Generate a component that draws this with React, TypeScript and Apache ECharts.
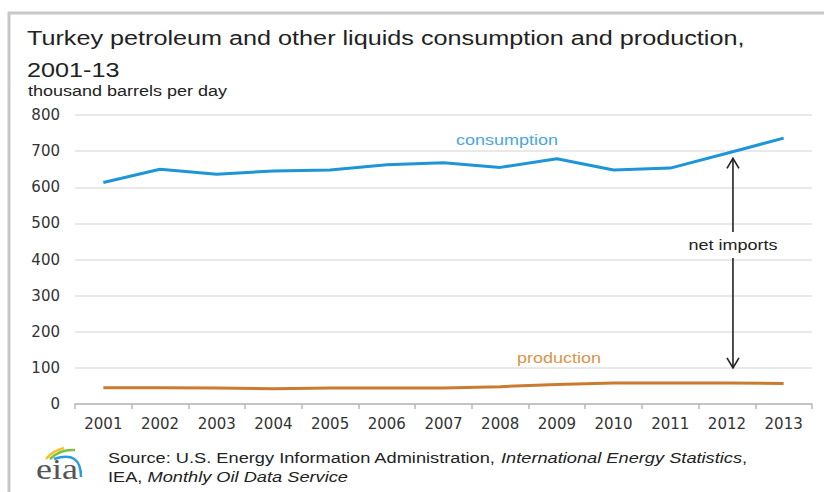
import React, { useEffect, useRef } from "react";
import * as echarts from "echarts";

const years = ["2001", "2002", "2003", "2004", "2005", "2006", "2007", "2008", "2009", "2010", "2011", "2012", "2013"];
const consumption = [613, 650, 636, 645, 648, 662, 668, 655, 679, 648, 653, 694, 736];
const production = [45, 45, 44, 42, 44, 44, 44, 48, 54, 58, 58, 58, 57];
const yTicks = { min: 0, max: 800, interval: 100 };
const arrowSpan = { year: "2012", top: 680, bottom: 100 };

const FONT = "'Liberation Sans', Arial, sans-serif";
const AXFONT = "'DejaVu Sans', 'Liberation Sans', sans-serif";
const BLUE = "#1e95d6";
const BROWN = "#c97b2f";
const SX = 1.2;

export default function App() {
  const ref = useRef<HTMLDivElement>(null);
  useEffect(() => {
    if (!ref.current) return;
    const chart = echarts.init(ref.current, null, { renderer: "svg" });
    chart.setOption({
      animation: false,
      backgroundColor: "#ffffff",
      textStyle: { fontFamily: FONT },
      grid: { left: 75, right: 12, top: 115, bottom: 88, containLabel: false },
      xAxis: {
        type: "category",
        data: years,
        boundaryGap: true,
        axisLine: { lineStyle: { color: "#b8b8b8", width: 1.5 } },
        axisTick: { show: true, length: 5, lineStyle: { color: "#b8b8b8", width: 1.5 } },
        axisLabel: { color: "#333", fontSize: 15, margin: 12, fontFamily: AXFONT },
      },
      yAxis: {
        type: "value",
        min: yTicks.min,
        max: yTicks.max,
        interval: yTicks.interval,
        axisLine: { show: false },
        axisTick: { show: false },
        axisLabel: { color: "#333", fontSize: 15, margin: 15, fontFamily: AXFONT },
        splitLine: { lineStyle: { color: "#e2e2e2", width: 1.5 } },
      },
      series: [
        {
          name: "consumption",
          type: "line",
          data: consumption,
          symbol: "none",
          lineStyle: { color: BLUE, width: 3 },
        },
        {
          name: "production",
          type: "line",
          data: production,
          symbol: "none",
          lineStyle: { color: BROWN, width: 3 },
        },
      ],
    });

    const top = chart.convertToPixel({ xAxisIndex: 0, yAxisIndex: 0 }, [arrowSpan.year, arrowSpan.top]) as number[];
    const bot = chart.convertToPixel({ xAxisIndex: 0, yAxisIndex: 0 }, [arrowSpan.year, arrowSpan.bottom]) as number[];
    const ax = top[0] + 6;
    const ty = top[1];
    const by = bot[1];
    const midY = 245;
    const arrowStyle = { stroke: "#222", lineWidth: 1.6, fill: "none" };

    const txt = (x: number, y: number, text: string, font: string, fill: string, sx = SX, align = "left", va = "top") => ({
      type: "text",
      x,
      y,
      scaleX: sx,
      style: { text, font, fill, align, verticalAlign: va },
    });

    chart.setOption({
      graphic: [
        // frame
        { type: "line", shape: { x1: 8, y1: 13, x2: 824, y2: 13 }, style: { stroke: "#c8c8c8", lineWidth: 3 } },
        { type: "line", shape: { x1: 9, y1: 12, x2: 9, y2: 492 }, style: { stroke: "#c8c8c8", lineWidth: 3 } },
        // title
        txt(27, 27, "Turkey petroleum and other liquids consumption and production,", `21px ${FONT}`, "#222"),
        txt(27, 59, "2001-13", `21px ${FONT}`, "#222"),
        txt(28, 84, "thousand barrels per day", `15px ${FONT}`, "#222", 1.2),
        // series labels
        txt(456, 133, "consumption", `15px ${FONT}`, "#4aa6de"),
        txt(517, 351, "production", `15px ${FONT}`, "#d9954c"),
        // arrow
        { type: "line", shape: { x1: ax, y1: ty, x2: ax, y2: midY - 13 }, style: arrowStyle },
        { type: "line", shape: { x1: ax, y1: midY + 13, x2: ax, y2: by }, style: arrowStyle },
        { type: "polyline", shape: { points: [[ax - 6, ty + 10], [ax, ty], [ax + 6, ty + 10]] }, style: arrowStyle },
        { type: "polyline", shape: { points: [[ax - 6, by - 10], [ax, by], [ax + 6, by - 10]] }, style: arrowStyle },
        txt(ax, midY, "net imports", `15px ${FONT}`, "#222", SX, "center", "middle"),
        // eia logo
        { type: "bezierCurve", shape: { x1: 46, y1: 459, x2: 64, y2: 448, cpx1: 52, cpy1: 451 }, style: { stroke: "#f2c12e", lineWidth: 2.5, fill: "none" } },
        { type: "bezierCurve", shape: { x1: 50, y1: 459, x2: 75, y2: 450, cpx1: 60, cpy1: 449 }, style: { stroke: "#7cc142", lineWidth: 2.5, fill: "none" } },
        { type: "bezierCurve", shape: { x1: 54, y1: 459, x2: 81, y2: 477, cpx1: 81, cpy1: 450 }, style: { stroke: "#2a9be0", lineWidth: 2.5, fill: "none" } },
        txt(36, 454, "eia", `30px 'Liberation Serif', 'DejaVu Serif', serif`, "#555", 1.2),
        // source
        {
          type: "text",
          x: 108,
          y: 449,
          scaleX: 1.215,
          style: {
            text: "{n|Source: U.S. Energy Information Administration, }{i|International Energy Statistics}{n|,}\n{n|IEA, }{i|Monthly Oil Data Service}",
            lineHeight: 19,
            verticalAlign: "top",
            rich: {
              n: { font: `15px ${FONT}`, fill: "#222", lineHeight: 19 },
              i: { font: `italic 15px ${FONT}`, fill: "#222", lineHeight: 19 },
            },
          },
        },
      ],
    });

    return () => chart.dispose();
  }, []);

  return (
    <div
      ref={ref}
      style={{ position: "fixed", left: 0, top: 0, width: 824, height: 492 }}
    />
  );
}
